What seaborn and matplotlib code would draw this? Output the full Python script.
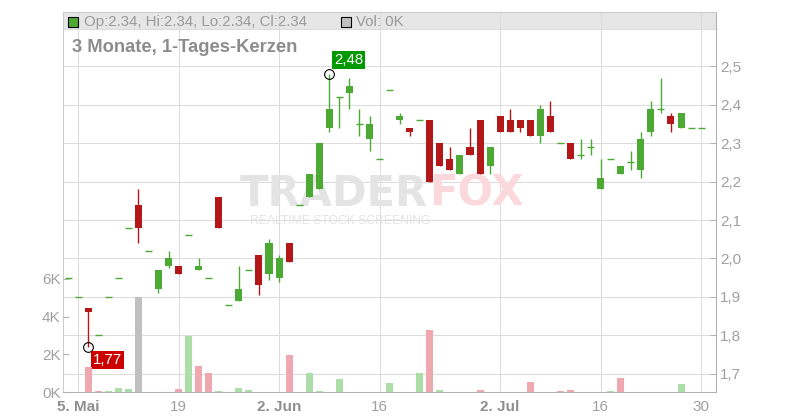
import numpy as np
import pandas as pd
import matplotlib
matplotlib.use("Agg")
import matplotlib.pyplot as plt
import seaborn as sns
from matplotlib.patches import Rectangle
from matplotlib.lines import Line2D

# ---------------- data ----------------
start_date = "2025-05-02"
end_date = "2025-07-30"

open_ = [1.95, 1.90, 1.87, 1.80, 1.90, 1.95, 2.08, 2.14, 2.02, 1.92,
         1.98, 1.98, 2.06, 1.97, 1.95, 2.16, 1.88, 1.89, 1.97, 2.01,
         1.96, 1.95, 2.04, 2.14, 2.16, 2.18, 2.34, 2.42, 2.43, 2.35,
         2.31, 2.26, 2.44, 2.36, 2.34, 2.36, 2.36, 2.30, 2.26, 2.22,
         2.29, 2.36, 2.24, 2.37, 2.36, 2.36, 2.36, 2.32, 2.37, 2.30,
         2.30, 2.27, 2.29, 2.18, 2.26, 2.22, 2.25, 2.23, 2.33, 2.39,
         2.37, 2.34, 2.34, 2.34]
high = [1.95, 1.90, 1.87, 1.80, 1.90, 1.95, 2.08, 2.18, 2.02, 1.97,
        2.02, 1.98, 2.06, 2.00, 1.95, 2.16, 1.88, 1.98, 1.97, 2.01,
        2.05, 2.01, 2.04, 2.14, 2.22, 2.30, 2.48, 2.42, 2.47, 2.39,
        2.37, 2.26, 2.44, 2.38, 2.34, 2.36, 2.36, 2.30, 2.29, 2.27,
        2.34, 2.36, 2.29, 2.37, 2.39, 2.36, 2.36, 2.40, 2.41, 2.30,
        2.30, 2.31, 2.31, 2.26, 2.26, 2.24, 2.28, 2.33, 2.41, 2.47,
        2.38, 2.38, 2.34, 2.34]
low = [1.95, 1.90, 1.77, 1.80, 1.90, 1.95, 2.08, 2.04, 2.02, 1.91,
       1.975, 1.96, 2.06, 1.97, 1.95, 2.08, 1.88, 1.89, 1.97, 1.905,
       1.945, 1.94, 1.99, 2.14, 2.16, 2.18, 2.33, 2.34, 2.39, 2.32,
       2.28, 2.26, 2.44, 2.35, 2.32, 2.36, 2.20, 2.24, 2.23, 2.22,
       2.27, 2.22, 2.22, 2.33, 2.33, 2.33, 2.32, 2.30, 2.33, 2.30,
       2.26, 2.26, 2.27, 2.18, 2.26, 2.22, 2.23, 2.21, 2.32, 2.38,
       2.33, 2.34, 2.34, 2.34]
close = [1.95, 1.90, 1.86, 1.80, 1.90, 1.95, 2.08, 2.08, 2.02, 1.97,
         2.00, 1.96, 2.06, 1.98, 1.95, 2.08, 1.88, 1.92, 1.97, 1.93,
         2.04, 2.00, 1.99, 2.14, 2.22, 2.30, 2.39, 2.42, 2.45, 2.35,
         2.35, 2.26, 2.44, 2.37, 2.33, 2.36, 2.20, 2.24, 2.23, 2.27,
         2.27, 2.22, 2.29, 2.33, 2.33, 2.34, 2.32, 2.39, 2.33, 2.30,
         2.26, 2.27, 2.29, 2.21, 2.26, 2.24, 2.25, 2.31, 2.39, 2.39,
         2.35, 2.38, 2.34, 2.34]
volume_k = [0, 0, 1.31, 0.05, 0.05, 0.2, 0.16, 5.06, 0, 0,
            0, 0.16, 2.99, 1.38, 1.0, 0.05, 0, 0.2, 0.12, 0,
            0, 0, 1.96, 0, 1.0, 0.05, 0, 0.67, 0, 0,
            0, 0, 0.48, 0, 0, 1.0, 3.29, 0.12, 0, 0,
            0, 0.12, 0, 0, 0, 0, 0.53, 0, 0, 0.07,
            0.12, 0, 0, 0, 0.07, 0.74, 0, 0, 0, 0,
            0, 0.44, 0, 0]

tick_dates = ["2025-05-05", "2025-05-19", "2025-06-02", "2025-06-16",
              "2025-07-02", "2025-07-16", "2025-07-30"]
tick_labels = ["5. Mai", "19", "2. Jun", "16", "2. Jul", "16", "30"]
price_ticks = [1.7, 1.8, 1.9, 2.0, 2.1, 2.2, 2.3, 2.4, 2.5]
vol_ticks = [0, 2000, 4000, 6000]
vol_tick_labels = ["0K", "2K", "4K", "6K"]
title = "3 Monate, 1-Tages-Kerzen"

# ---------------- style ----------------
sns.set_theme(style="white")
plt.rcParams["font.family"] = ["Liberation Sans", "DejaVu Sans"]

GREEN = "#4caa34"
RED = "#b31717"
VOL_UP = "#abdea8"
VOL_DOWN = "#efa7b0"
VOL_FLAT = "#c0c0c0"
GRID = "#dcdcdc"
LABEL = "#a0a0a0"

W, H = 800, 420
fig = plt.figure(figsize=(W / 100, H / 100), dpi=100)
fig.patch.set_facecolor("white")

L, R, T, B = 63.3, 716.0, 11.7, 392.0
ax = fig.add_axes([L / W, 1 - B / H, (R - L) / W, (B - T) / H])
ax.set_facecolor("none")
axv = ax.twinx()

dates = pd.bdate_range(start_date, end_date)
n = len(dates)
x = np.arange(n)
o = np.array(open_); h = np.array(high); lo = np.array(low); c = np.array(close)

# ---------------- candles (price axis) ----------------
is_doji = np.isclose(o, c)
col = np.where(c > o, GREEN, np.where(c < o, RED, GREEN))
ax.vlines(x, lo, h, colors=col, linewidth=1.0, zorder=3)
nd = ~is_doji
ax.bar(x[nd], np.abs(c - o)[nd], bottom=np.minimum(o, c)[nd], width=0.7,
       color=col[nd], linewidth=0, zorder=4)
ax.hlines(o[is_doji], x[is_doji] - 0.35, x[is_doji] + 0.35,
          colors=GREEN, linewidth=1.0, zorder=4)

ax.set_xlim(-0.47, 64.48)
ax.set_ylim(1.6523, 2.6427)
ax.set_axisbelow(True)

ax.set_yticks(price_ticks)
ax.set_yticklabels([f"{v:.1f}".replace(".", ",") for v in price_ticks])
tick_pos = dates.get_indexer(pd.to_datetime(tick_dates))
ax.set_xticks(tick_pos)
ax.set_xticklabels(tick_labels)
for lab in ax.get_xticklabels():
    lab.set_fontweight("bold" if "." in lab.get_text() else "normal")
    lab.set_color("#8f8f8f" if "." in lab.get_text() else LABEL)

ax.grid(True, color=GRID, linewidth=0.75)
ax.tick_params(axis="y", which="both", direction="in", length=4, width=0.75,
               color="#b0b0b0", labelcolor=LABEL, labelsize=11, pad=3,
               right=True, left=False, labelright=True, labelleft=False)
ax.tick_params(axis="x", direction="out", length=3, width=0.75,
               color="#b0b0b0", labelsize=11, pad=3)
for side, clr in [("left", "#cccccc"), ("top", "#cccccc"),
                  ("right", "#b0b0b0"), ("bottom", "#b0b0b0")]:
    ax.spines[side].set_visible(True)
    ax.spines[side].set_color(clr)
    ax.spines[side].set_linewidth(0.75)

# watermark
def ay(px):  # figure pixel row -> axes fraction
    return (B - px) / (B - T)

def axx(px):
    return (px - L) / (R - L)

wm = ax.text(axx(240), ay(206), "TRADER", transform=ax.transAxes, fontsize=30,
             fontweight="bold", family="DejaVu Sans", color="#e4e4e4",
             ha="left", va="baseline", zorder=1)
ax.annotate("FOX", xy=(1.0, 0.0), xycoords=wm, xytext=(0.5, 0), textcoords="offset points",
            fontsize=30, fontweight="bold", family="DejaVu Sans", color="#fbd8db",
            ha="left", va="bottom", zorder=1)
ax.text(axx(250), ay(224.5), "REALTIME STOCK SCREENING", transform=ax.transAxes,
        fontsize=8.7, color="#e3e3e3", ha="left", va="baseline", zorder=1)

# max / min markers
imax = int(np.argmax(h)); imin = int(np.argmin(lo))
ax.plot([imax], [h[imax]], "o", mfc="none", mec="black", ms=7, mew=0.8, zorder=6)
ax.plot([imin], [lo[imin]], "o", mfc="none", mec="black", ms=7, mew=0.8, zorder=6)
ax.annotate(f"{h[imax]:.2f}".replace(".", ","), xy=(imax, h[imax]),
            xytext=(3.4, 5.0), textcoords="offset points", ha="left", va="bottom",
            color="white", fontsize=10.8, zorder=7,
            bbox=dict(boxstyle="square,pad=0.12", fc="#009900", ec="none"))
ax.annotate(f"{lo[imin]:.2f}".replace(".", ","), xy=(imin, lo[imin]),
            xytext=(3.6, -4.6), textcoords="offset points", ha="left", va="top",
            color="white", fontsize=10.8, zorder=7,
            bbox=dict(boxstyle="square,pad=0.12", fc="#cc0000", ec="none"))

# ---------------- volume (seaborn) ----------------
vol = np.array(volume_k) * 1000
prev = np.concatenate([[c[0]], c[:-1]])
direction = np.where(c > prev + 1e-9, "up", np.where(c < prev - 1e-9, "down", "flat"))
df = pd.DataFrame({"pos": x, "vol": vol, "dir": direction})
sns.barplot(data=df, x="pos", y="vol", hue="dir", native_scale=True, dodge=False,
            palette={"up": VOL_UP, "down": VOL_DOWN, "flat": VOL_FLAT},
            width=0.7, saturation=1, linewidth=0, errorbar=None, legend=False,
            ax=axv, zorder=2)
axv.set_xlim(-0.47, 64.48)
axv.set_ylim(0, 20175)
axv.set_yticks(vol_ticks)
axv.set_yticklabels(vol_tick_labels)
axv.tick_params(axis="y", direction="in", length=4, width=0.75, color="#b0b0b0",
                labelcolor=LABEL, labelsize=11, pad=2, left=True, right=False,
                labelleft=True, labelright=False)
axv.set_xlabel(""); axv.set_ylabel(""); ax.set_xlabel(""); ax.set_ylabel("")
axv.grid(False)
for s in axv.spines.values():
    s.set_visible(False)

# ---------------- header band ----------------
fig.add_artist(Rectangle((L / W, 1 - 29.3 / H), (717 - L) / W, (29.3 - T) / H,
                         transform=fig.transFigure, fc="#e6e6e6", ec="none", zorder=-1))
fig.add_artist(Line2D([L / W, 717 / W], [1 - 29.3 / H] * 2, transform=fig.transFigure,
                      color=GRID, lw=0.75, zorder=-0.5))
fig.add_artist(Rectangle((68.3 / W, 1 - 26.7 / H), 10 / W, 10 / H, transform=fig.transFigure,
                         fc=GREEN, ec="black", lw=0.8, zorder=5))
fig.add_artist(Rectangle((340.7 / W, 1 - 26.7 / H), 10 / W, 10 / H, transform=fig.transFigure,
                         fc=VOL_FLAT, ec="black", lw=0.8, zorder=5))
fig.text(84 / W, 1 - 21.7 / H,
         f"Op:{o[-1]:.2f}, Hi:{h[-1]:.2f}, Lo:{lo[-1]:.2f}, Cl:{c[-1]:.2f}",
         fontsize=10.8, color="#9a9a9a", va="center", ha="left", zorder=6)
fig.text(356 / W, 1 - 21.7 / H, f"Vol: {volume_k[-1]:.0f}K", fontsize=10.8,
         color="#9a9a9a", va="center", ha="left", zorder=6)
fig.text(72 / W, 1 - 47.8 / H, title, fontsize=13.2, fontweight="bold",
         color="#8c8c8c", va="center", ha="left", zorder=6)

fig.savefig("out.png", dpi=100, facecolor="white")
